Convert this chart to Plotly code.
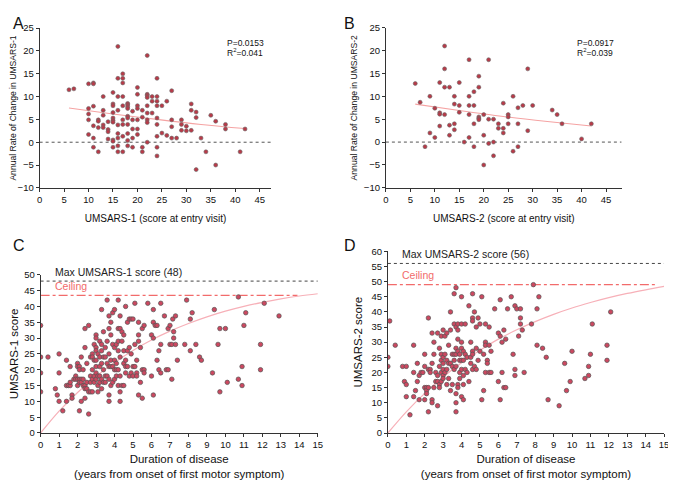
import plotly.graph_objects as go

# ---------------- Panel A data ----------------
a_x = [6, 7, 10, 10, 10, 10, 10, 11, 11, 11, 11, 11, 11, 12, 12, 12, 12, 13, 13, 13, 13, 13,
       14, 14, 14, 14, 15, 15, 15, 15, 15, 15, 15, 15, 15, 15, 16, 16, 16, 16, 16, 16, 16, 16, 16,
       17, 17, 17, 17, 17, 17, 17, 17, 17, 18, 18, 18, 18, 18, 18, 18, 18, 18, 18, 19, 19, 19, 19, 19,
       20, 20, 20, 20, 20, 20, 20, 21, 21, 21, 21, 22, 22, 22, 22, 22, 22, 22, 22, 22, 23, 23, 23,
       24, 24, 24, 24, 24, 24, 24, 24, 24, 25, 25, 26, 26, 27, 27, 27, 27, 28, 29, 29, 29, 30, 30,
       31, 31, 31, 32, 32, 32, 33, 34, 35, 36, 36, 38, 38, 41, 42]
a_y = [11.5, 11.7, 12.8, 7.4, 6.2, 4.9, 1.7, 13.0, 12.8, 7.9, 3.6, 0.9, -1.1, 4.9, 4.6, 3.2, -2.1, 10.0, 7.0, 5.9, 3.8, 3.2,
       4.5, 2.8, 2.3, 0.7, 10.9, 8.4, 8.0, 6.5, 5.3, 4.8, 4.4, 0.5, -1.1, 0.2, 21.0, 14.0, 10.0, 7.0, 3.8, 1.9, 0.9, -0.8, -2.1,
       15.0, 14.0, 13.0, 10.0, 8.0, 4.9, 3.9, 1.3, -2.1, 8.5, 8.2, 7.8, 7.4, 5.7, 5.3, 3.9, 1.9, 0.4, -0.8, 6.8, 4.9, 2.9, 0.9, -1.1,
       12.0, 10.5, 8.0, 7.4, 4.9, 2.9, 1.7, 7.0, 5.5, -1.1, -2.1, 19.0, 10.5, 10.2, 9.8, 8.0, 6.4, 4.9, 4.3, 0.0, 10.0, 9.0, 6.4,
       14.0, 10.0, 9.0, 8.0, 5.3, 3.9, 1.3, -1.1, -3.0, 8.0, 2.0, 9.0, 1.5, 11.3, 4.9, 3.4, 0.9, 0.9, 4.9, 3.9, 2.6, 3.5, 2.5,
       8.4, 7.0, 2.6, 6.6, 5.4, -6.0, 0.9, -2.1, 5.9, 4.6, -5.0, 3.9, 2.9, -2.1, 2.9]
a_fit_x = [6, 15, 24, 33, 42]
a_fit_y = [7.5, 6.2, 5.0, 3.9, 3.0]

# ---------------- Panel B data ----------------
b_x = [6, 7, 8, 9, 9, 10, 10, 11, 11, 11, 11, 12, 12, 12, 12, 13, 13, 13, 14, 14, 14, 14, 15, 15, 15,
       16, 17, 17, 17, 17, 17, 18, 18, 18, 18, 19, 19, 19, 19, 19, 20, 20, 20, 21, 21, 21, 22, 22, 22,
       23, 23, 24, 24, 24, 25, 25, 25, 26, 26, 27, 27, 27, 28, 29, 29, 30, 34, 35, 36, 40, 42]
b_y = [12.8, 8.7, -1.0, 10.0, 2.0, 7.4, 1.0, 13.0, 6.4, 6.1, 3.5, 21.0, 16.0, 12.0, 6.0, 12.0, 3.7, 1.5, 10.0, 8.3, 4.0, 2.7, 13.0, 8.0, 6.5,
       0.0, 18.0, 10.0, 8.0, 6.0, 1.0, 11.0, 8.0, 4.0, -1.0, 14.4, 12.0, 5.5, 5.2, 4.9, 6.0, 1.5, -5.0, 18.0, 5.0, -0.3, 5.0, 0.0, -3.0,
       4.0, 3.0, 8.5, 3.0, 2.0, 6.0, 5.5, 4.0, 10.0, -2.0, 7.5, 4.0, -1.0, 8.0, 16.0, 2.5, 8.0, 7.0, 6.0, 4.0, 0.7, 4.0]
b_fit_x = [6, 15, 24, 33, 42]
b_fit_y = [8.3, 6.9, 5.6, 4.5, 3.5]

# ---------------- Panel C data ----------------
c_pts = [
    (0.0, 34), (0.0, 24), (0.0, 19), (0.0, 13), (0.4, 24), (0.8, 14), (0.9, 12), (1.0, 25), (1.0, 19), (1.0, 10),
    (1.2, 7), (1.4, 23), (1.4, 15), (1.5, 15), (1.6, 15), (1.4, 10), (1.6, 21), (1.6, 16), (1.7, 12), (1.7, 11),
    (1.8, 17), (1.9, 18), (1.9, 17), (2.0, 22), (2.0, 21), (2.0, 17), (2.0, 15),
    (2.1, 21), (2.1, 20), (2.1, 17), (2.1, 16), (2.1, 7), (2.2, 24), (2.2, 17), (2.2, 16), (2.2, 10), (2.3, 20),
    (2.3, 17), (2.3, 15), (2.4, 27), (2.4, 33), (2.4, 15), (2.4, 14), (2.4, 11), (2.5, 22), (2.5, 16), (2.5, 14),
    (2.6, 34), (2.6, 13), (2.6, 6), (2.7, 24), (2.7, 18), (2.7, 16), (2.7, 13), (2.8, 25), (2.8, 24), (2.8, 20),
    (2.8, 17), (2.8, 13), (2.9, 28), (2.9, 23), (2.9, 18), (2.9, 16),
    (3.0, 31), (3.0, 30), (3.0, 27), (3.0, 26), (3.0, 23), (3.0, 21), (3.0, 19), (3.0, 17), (3.1, 25), (3.1, 18),
    (3.1, 15), (3.1, 13), (3.2, 29), (3.2, 24), (3.2, 21), (3.2, 18), (3.2, 16), (3.3, 39), (3.3, 28), (3.3, 26),
    (3.3, 22), (3.3, 17), (3.3, 14), (3.4, 32), (3.4, 24), (3.4, 20), (3.4, 16), (3.5, 27), (3.5, 24), (3.5, 18),
    (3.5, 16), (3.6, 42), (3.6, 29), (3.6, 22), (3.6, 18), (3.7, 37), (3.7, 33), (3.7, 25), (3.7, 21), (3.7, 17),
    (3.7, 12), (3.7, 10), (3.8, 35), (3.8, 31), (3.8, 23), (3.8, 21), (3.8, 15), (3.9, 38), (3.9, 28), (3.9, 21), (3.9, 16),
    (4.0, 39), (4.0, 27), (4.0, 23), (4.0, 20), (4.0, 17), (4.1, 28), (4.1, 22), (4.1, 20), (4.1, 18), (4.2, 42),
    (4.2, 33), (4.2, 29), (4.2, 26), (4.2, 20), (4.2, 15), (4.3, 37), (4.3, 33), (4.3, 24), (4.3, 18), (4.3, 13),
    (4.3, 10), (4.4, 32), (4.4, 29), (4.4, 15), (4.5, 31), (4.5, 26), (4.5, 22), (4.5, 15), (4.6, 40), (4.6, 23),
    (4.6, 21), (4.6, 19), (4.7, 35), (4.7, 26), (4.7, 21), (4.8, 36), (4.8, 27), (4.8, 18), (4.9, 36), (4.9, 25),
    (4.9, 19), (5.0, 36), (5.0, 21), (5.0, 18),
    (5.1, 41), (5.1, 28), (5.1, 21), (5.2, 23), (5.2, 19), (5.2, 18), (5.3, 35), (5.3, 31), (5.3, 29), (5.3, 12),
    (5.4, 27), (5.4, 16), (5.5, 33), (5.5, 20), (5.5, 11), (5.6, 34), (5.6, 20), (5.6, 19), (5.8, 41),
    (6.0, 31), (6.0, 18), (6.1, 39), (6.1, 35), (6.1, 30), (6.1, 12), (6.2, 34), (6.3, 34), (6.3, 23), (6.4, 26),
    (6.4, 20), (6.5, 41), (6.5, 28), (6.5, 19), (6.7, 37), (6.8, 20), (6.9, 33), (6.9, 20), (7.0, 34), (7.0, 28),
    (7.1, 17), (7.15, 36), (7.2, 32), (7.2, 30), (7.1, 28), (7.3, 37), (7.3, 28), (7.4, 23), (7.8, 28), (7.9, 42),
    (8.1, 36), (8.2, 38), (8.1, 26), (8.4, 28), (8.6, 24), (8.7, 23), (9.3, 19), (9.4, 39), (9.6, 28), (9.7, 33),
    (9.7, 13), (10.0, 33), (10.1, 16), (10.7, 43), (10.7, 17), (10.9, 15), (10.9, 21), (11.0, 34), (11.1, 38),
    (11.9, 28), (11.9, 20), (12.1, 41), (12.9, 37)]
c_x = [p[0] for p in c_pts]
c_y = [p[1] for p in c_pts]
c_curve_x = [0, 1, 2, 3, 4, 5, 6, 7, 8, 9, 10, 11, 12, 13, 14, 15]
c_curve_y = [0, 6.9, 12.8, 17.9, 22.3, 26.1, 29.4, 32.2, 34.6, 36.7, 38.5, 40.0, 41.3, 42.4, 43.3, 44.0]
c_max = 48
c_ceiling = 43.5

# ---------------- Panel D data ----------------
d_pts = [
    (0.0, 25), (0.0, 22), (0.1, 37), (0.4, 29), (0.8, 22), (0.9, 17), (1.0, 22), (1.0, 16), (1.0, 12),
    (1.2, 6), (1.4, 29), (1.4, 20), (1.4, 12), (1.5, 14), (1.6, 23), (1.6, 17), (1.7, 11), (1.7, 19), (1.8, 20),
    (1.9, 20), (2.0, 26), (2.0, 22), (2.0, 15), (2.0, 11),
    (2.1, 15), (2.1, 14), (2.1, 13), (2.2, 38), (2.2, 21), (2.2, 15), (2.2, 7), (2.3, 21), (2.3, 20), (2.4, 33),
    (2.4, 23), (2.4, 11), (2.4, 10), (2.5, 30), (2.5, 26), (2.5, 15), (2.6, 20), (2.6, 17), (2.7, 33), (2.7, 19),
    (2.7, 17), (2.7, 9), (2.8, 28), (2.8, 22), (2.8, 16), (2.8, 15), (2.9, 32), (2.9, 26), (2.9, 24), (2.9, 20), (2.9, 17),
    (3.0, 34), (3.0, 25), (3.0, 23), (3.0, 21), (3.0, 19), (3.0, 18), (3.1, 32), (3.1, 26), (3.1, 20), (3.2, 33),
    (3.2, 24), (3.2, 21), (3.2, 16), (3.3, 29), (3.3, 23), (3.3, 18), (3.4, 40), (3.4, 34), (3.4, 23), (3.4, 14),
    (3.5, 26), (3.5, 22), (3.5, 16), (3.6, 46), (3.6, 36), (3.6, 26), (3.6, 24), (3.6, 21), (3.7, 48), (3.7, 35),
    (3.7, 28), (3.7, 26), (3.7, 22), (3.7, 13), (3.7, 10), (3.7, 7), (3.8, 36), (3.8, 34), (3.8, 31), (3.8, 27),
    (3.8, 16), (3.8, 15), (3.9, 26), (3.9, 24), (3.9, 18), (3.9, 20),
    (4.0, 45), (4.0, 36), (4.0, 30), (4.0, 28), (4.0, 24), (4.0, 21), (4.0, 12), (4.1, 27), (4.1, 24), (4.1, 19),
    (4.1, 16), (4.1, 11), (4.2, 36), (4.2, 26), (4.2, 21), (4.3, 20), (4.3, 25), (4.4, 42), (4.4, 17), (4.5, 30),
    (4.5, 25), (4.5, 23), (4.6, 46), (4.6, 38), (4.6, 37), (4.6, 27), (4.6, 26), (4.6, 21), (4.7, 40), (4.7, 22),
    (4.8, 35), (4.8, 28), (4.8, 21), (4.9, 38), (4.9, 24), (5.0, 36), (5.0, 27),
    (5.1, 45), (5.1, 11), (5.2, 26), (5.2, 14), (5.3, 36), (5.3, 30), (5.3, 29), (5.3, 20), (5.4, 24), (5.4, 23),
    (5.5, 35), (5.5, 29), (5.5, 20), (5.6, 27), (5.6, 20), (5.8, 41),
    (6.0, 33), (6.0, 17), (6.1, 44), (6.1, 32), (6.1, 11), (6.2, 30), (6.2, 20), (6.3, 34), (6.3, 15), (6.4, 31),
    (6.4, 15), (6.5, 41), (6.7, 45), (6.8, 26), (6.9, 42), (6.9, 21), (6.9, 19), (7.0, 41), (7.1, 32), (7.2, 41),
    (7.2, 38), (7.2, 36), (7.3, 34), (7.4, 20), (7.8, 36), (7.9, 49), (8.1, 41), (8.2, 45), (8.1, 29), (8.4, 28),
    (8.6, 25), (8.7, 11), (9.3, 9), (9.6, 23), (9.7, 14), (9.9, 17), (10.0, 27), (10.7, 18), (10.9, 22), (10.9, 19),
    (11.0, 26), (11.1, 36), (11.9, 29), (11.9, 24), (12.1, 40)]
d_x = [p[0] for p in d_pts]
d_y = [p[1] for p in d_pts]
d_curve_x = [0, 1, 2, 3, 4, 5, 6, 7, 8, 9, 10, 11, 12, 13, 14, 15]
d_curve_y = [0, 7.0, 13.1, 18.5, 23.2, 27.3, 31.0, 34.1, 36.8, 39.2, 41.3, 43.1, 44.7, 46.1, 47.3, 48.4]
d_max = 56
d_ceiling = 49

# ---------------- Figure ----------------
# The page body has an 8px default margin, so the figure is 8px smaller and
# all pixel positions below are page coordinates offset by that margin.
OFF = 8
W, H = 676 - OFF, 480 - OFF
FONT = "Liberation Sans, Arial, sans-serif"
MARK_AB = dict(size=4, color="#b83a48", line=dict(color="#6a6a6a", width=0.6))
MARK_CD = dict(size=4.5, color="#cc4860", line=dict(color="#555555", width=0.7))
FIT = "#f5a3a3"

def px(v):
    return (v - OFF) / W

def py(v):
    return 1 - (v - OFF) / H

fig = go.Figure()

# Panel A
fig.add_trace(go.Scatter(x=a_fit_x, y=a_fit_y, mode="lines", line=dict(color=FIT, width=1.1, shape="spline"), xaxis="x", yaxis="y"))
fig.add_trace(go.Scatter(x=a_x, y=a_y, mode="markers", marker=MARK_AB, xaxis="x", yaxis="y"))
# Panel B
fig.add_trace(go.Scatter(x=b_fit_x, y=b_fit_y, mode="lines", line=dict(color=FIT, width=1.1, shape="spline"), xaxis="x2", yaxis="y2"))
fig.add_trace(go.Scatter(x=b_x, y=b_y, mode="markers", marker=MARK_AB, xaxis="x2", yaxis="y2"))
# Panel C
fig.add_trace(go.Scatter(x=[0, 15], y=[c_max, c_max], mode="lines", line=dict(color="#444", width=1, dash="dot"), xaxis="x3", yaxis="y3"))
fig.add_trace(go.Scatter(x=[0, 13.9], y=[c_ceiling, c_ceiling], mode="lines", line=dict(color="#f26b6b", width=1.2, dash="dashdot"), xaxis="x3", yaxis="y3"))
fig.add_trace(go.Scatter(x=c_curve_x, y=c_curve_y, mode="lines", line=dict(color="#f7b0b8", width=1.2, shape="spline"), xaxis="x3", yaxis="y3"))
fig.add_trace(go.Scatter(x=c_x, y=c_y, mode="markers", marker=MARK_CD, xaxis="x3", yaxis="y3"))
# Panel D
fig.add_trace(go.Scatter(x=[0, 15], y=[d_max, d_max], mode="lines", line=dict(color="#444", width=1, dash="dot"), xaxis="x4", yaxis="y4"))
fig.add_trace(go.Scatter(x=[0, 14.6], y=[d_ceiling, d_ceiling], mode="lines", line=dict(color="#f26b6b", width=1.2, dash="dashdot"), xaxis="x4", yaxis="y4"))
fig.add_trace(go.Scatter(x=d_curve_x, y=d_curve_y, mode="lines", line=dict(color="#f7b0b8", width=1.2, shape="spline"), xaxis="x4", yaxis="y4"))
fig.add_trace(go.Scatter(x=d_x, y=d_y, mode="markers", marker=MARK_CD, xaxis="x4", yaxis="y4"))

axis_common = dict(showline=True, linecolor="#333", linewidth=1, ticks="outside", ticklen=3, tickcolor="#333",
                   showgrid=False, zeroline=False, tickfont=dict(size=9.5, color="#111", family=FONT), mirror=False)

fig.update_layout(
    width=W, height=H, margin=dict(l=0, r=0, t=0, b=0), showlegend=False,
    plot_bgcolor="white", paper_bgcolor="white", font=dict(family=FONT, color="#111"),
    xaxis=dict(axis_common, domain=[px(36), px(271)], range=[0, 47.4], dtick=5, anchor="y",
               title=dict(text="UMSARS-1 (score at entry visit)", font=dict(size=10), standoff=10)),
    yaxis=dict(axis_common, domain=[py(186), py(22.5)], range=[-10, 25], dtick=5, anchor="x",
               title=dict(text="Annual Rate of Change in UMSARS-1", font=dict(size=8.6), standoff=4)),
    xaxis2=dict(axis_common, domain=[px(387), px(626)], range=[0, 48.2], dtick=5, anchor="y2",
                title=dict(text="UMSARS-2 (score at entry visit)", font=dict(size=10), standoff=10)),
    yaxis2=dict(axis_common, domain=[py(186), py(22)], range=[-10, 25], dtick=5, anchor="x2",
                title=dict(text="Annual Rate of Change in UMSARS-2", font=dict(size=8.6), standoff=4)),
    xaxis3=dict(axis_common, domain=[px(37), px(318)], range=[0, 15], dtick=1, anchor="y3",
                title=dict(text="Duration of disease<br>(years from onset of first motor symptom)", font=dict(size=11.5), standoff=6)),
    yaxis3=dict(axis_common, domain=[py(437), py(275)], range=[0, 50], dtick=5, anchor="x3",
                title=dict(text="UMSARS-1 score", font=dict(size=11.5), standoff=6)),
    xaxis4=dict(axis_common, domain=[px(389), px(669)], range=[0, 15], dtick=1, anchor="y4",
                title=dict(text="Duration of disease<br>(years from onset of first motor symptom)", font=dict(size=11.5), standoff=6)),
    yaxis4=dict(axis_common, domain=[py(437), py(251)], range=[0, 60], dtick=5, anchor="x4",
                title=dict(text="UMSARS-2 score", font=dict(size=11.5), standoff=6)),
)

# zero reference lines (A, B)
for xr, yr, xmax in (("x", "y", 47.4), ("x2", "y2", 48.2)):
    fig.add_shape(type="line", xref=xr, yref=yr, x0=0, x1=xmax, y0=0, y1=0,
                  line=dict(color="#555", width=1, dash="dot"), layer="below")

ann = [
    dict(text="A", x=0, y=1.0, xref="paper", yref="paper", xanchor="left", yanchor="top", showarrow=False, font=dict(size=16), borderpad=0),
    dict(text="B", x=px(344), y=1.0, xref="paper", yref="paper", xanchor="left", yanchor="top", showarrow=False, font=dict(size=16), borderpad=0),
    dict(text="C", x=0, y=py(235), xref="paper", yref="paper", xanchor="left", yanchor="top", showarrow=False, font=dict(size=16), borderpad=0),
    dict(text="D", x=px(344), y=py(235), xref="paper", yref="paper", xanchor="left", yanchor="top", showarrow=False, font=dict(size=16), borderpad=0),
    dict(text="P=0.0153", x=38.0, y=21.8, xref="x", yref="y", xanchor="left", showarrow=False, font=dict(size=8.5)),
    dict(text="R<sup>2</sup>=0.041", x=38.0, y=19.6, xref="x", yref="y", xanchor="left", showarrow=False, font=dict(size=8.5)),
    dict(text="P=0.0917", x=38.6, y=21.7, xref="x2", yref="y2", xanchor="left", showarrow=False, font=dict(size=8.5)),
    dict(text="R<sup>2</sup>=0.039", x=38.6, y=19.5, xref="x2", yref="y2", xanchor="left", showarrow=False, font=dict(size=8.5)),
    dict(text="Max UMSARS-1 score (48)", x=0.65, y=48.4, xref="x3", yref="y3", xanchor="left", yanchor="bottom", showarrow=False, font=dict(size=10.5, color="#222")),
    dict(text="Ceiling", x=0.65, y=43.9, xref="x3", yref="y3", xanchor="left", yanchor="bottom", showarrow=False, font=dict(size=10.5, color="#f26b6b")),
    dict(text="Max UMSARS-2 score (56)", x=0.65, y=56.4, xref="x4", yref="y4", xanchor="left", yanchor="bottom", showarrow=False, font=dict(size=10.5, color="#222")),
    dict(text="Ceiling", x=0.65, y=49.4, xref="x4", yref="y4", xanchor="left", yanchor="bottom", showarrow=False, font=dict(size=10.5, color="#f26b6b")),
]
fig.update_layout(annotations=ann)

fig.write_html("out.html")
